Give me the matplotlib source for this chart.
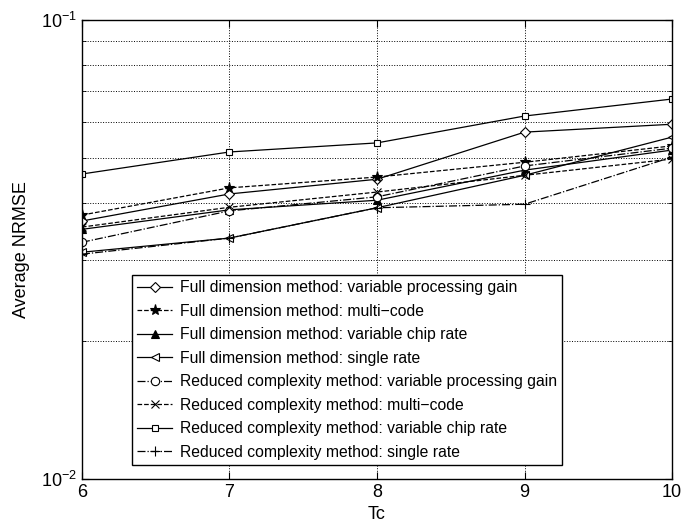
import matplotlib
matplotlib.use('Agg')
import matplotlib.pyplot as plt
from matplotlib.ticker import LogLocator, NullFormatter, FixedLocator, LogFormatterMathtext

plt.rcParams['font.family'] = ['Liberation Sans', 'DejaVu Sans']

tc = [6, 7, 8, 9, 10]
full_vpg = [0.0365, 0.0418, 0.0450, 0.0570, 0.0593]
full_mc = [0.0376, 0.0431, 0.0455, 0.0490, 0.0532]
full_vcr = [0.0350, 0.0386, 0.0405, 0.0471, 0.0521]
full_sr = [0.0312, 0.0335, 0.0390, 0.0459, 0.0556]
red_vpg = [0.0328, 0.0384, 0.0412, 0.0481, 0.0526]
red_mc = [0.0354, 0.0391, 0.0422, 0.0459, 0.0498]
red_vcr = [0.0462, 0.0516, 0.0540, 0.0618, 0.0673]
red_sr = [0.0309, 0.0335, 0.0390, 0.0397, 0.0503]

labels = [
    "Full dimension method: variable processing gain",
    "Full dimension method: multi\u2212code",
    "Full dimension method: variable chip rate",
    "Full dimension method: single rate",
    "Reduced complexity method: variable processing gain",
    "Reduced complexity method: multi\u2212code",
    "Reduced complexity method: variable chip rate",
    "Reduced complexity method: single rate",
]

series = [full_vpg, full_mc, full_vcr, full_sr, red_vpg, red_mc, red_vcr, red_sr]
styles = [('-', 'D', 5, 'white'), ('--', '*', 8, 'black'), ('-', '^', 6, 'black'),
          ('-', '<', 6, 'white'), ('-.', 'o', 6, 'white'), ('--', 'x', 6, 'none'),
          ('-', 's', 5, 'white'), ('-.', '+', 7, 'none')]

fig = plt.figure(figsize=(6.83, 5.29), dpi=100)
ax = fig.add_axes([0.120, 0.0945, 0.864, 0.8675])

for y, lab, (ls, mk, ms, fc) in zip(series, labels, styles):
    ax.plot(tc, y, linestyle=ls, marker=mk, markersize=ms, color='black',
            markerfacecolor=fc, markeredgecolor='black', linewidth=0.9,
            markeredgewidth=0.8, label=lab)

ax.set_yscale('log')
ax.set_xlim(6, 10)
ax.set_ylim(0.01, 0.1)
ax.set_xticks(tc)
ax.set_xticklabels([str(t) for t in tc])
ax.yaxis.set_major_locator(FixedLocator([0.01, 0.1]))
ax.yaxis.set_major_formatter(LogFormatterMathtext())
ax.yaxis.set_minor_locator(LogLocator(base=10, subs=range(2, 10)))
ax.yaxis.set_minor_formatter(NullFormatter())

ax.grid(True, which='major', linestyle=':', color='black', linewidth=0.7)
ax.grid(True, which='minor', axis='y', linestyle=':', color='black', linewidth=0.7)

ax.tick_params(which='both', direction='in', top=True, right=True, labelsize=13)
ax.tick_params(which='major', length=5)
ax.tick_params(which='minor', length=3)
for s in ax.spines.values():
    s.set_linewidth(1.0)

ax.set_xlabel('Tc', fontsize=13)
ax.set_ylabel('Average NRMSE', fontsize=13, labelpad=8)

leg = ax.legend(loc='lower left', bbox_to_anchor=(0.0847, 0.0305), fontsize=11.3,
                frameon=True, fancybox=False, edgecolor='black', framealpha=1,
                handlelength=2.2, handletextpad=0.5, borderpad=0.35, labelspacing=0.54,
                borderaxespad=0)
leg.get_frame().set_linewidth(1.0)

fig.savefig('out.png', dpi=100)
